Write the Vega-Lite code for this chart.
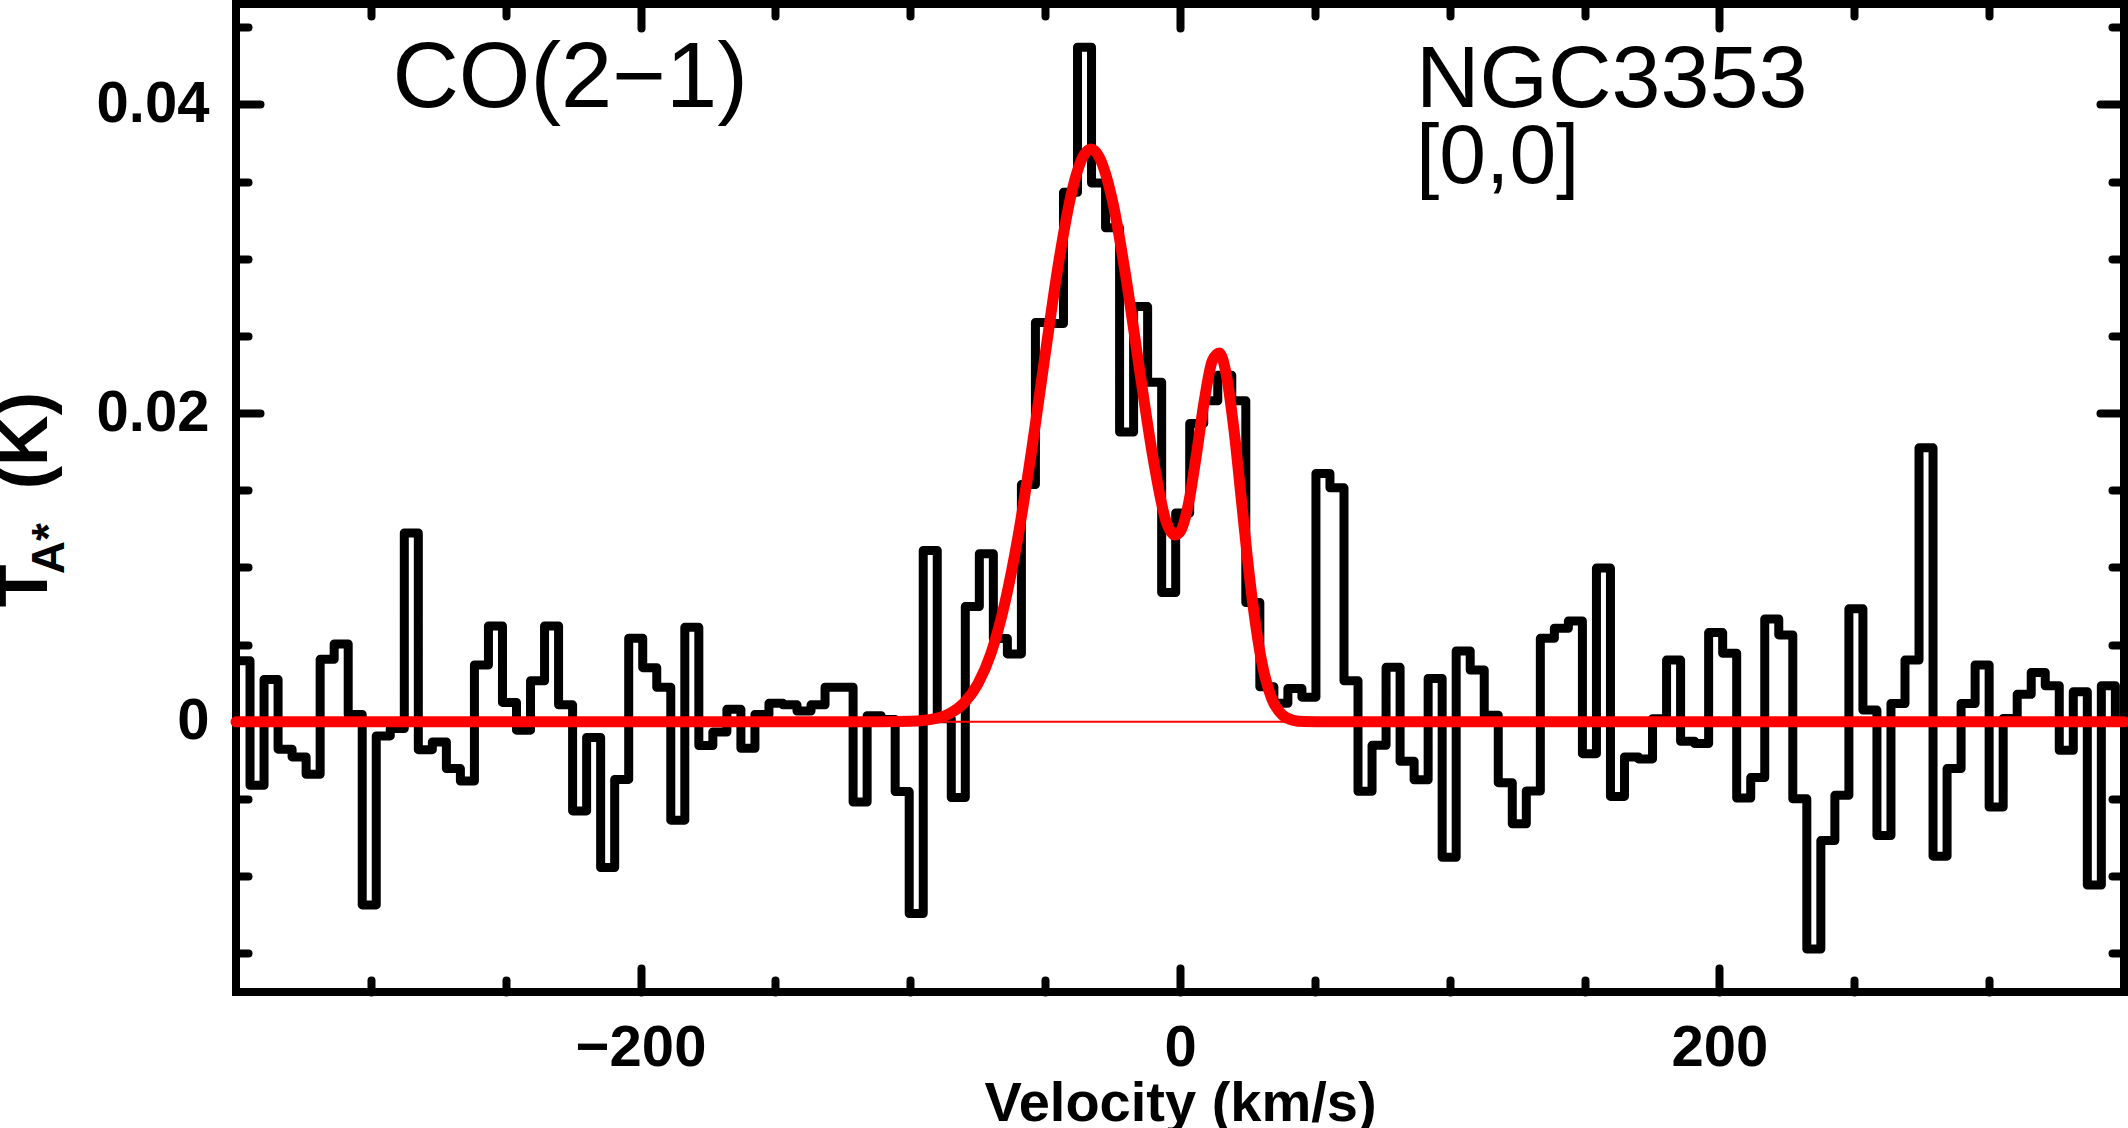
{
  "$schema": "https://vega.github.io/schema/vega-lite/v6.json",
  "width": 1888,
  "height": 988,
  "autosize": {"type": "none"},
  "padding": {"left": 236, "top": 4, "right": 4, "bottom": 136},
  "background": "white",
  "datasets": {
    "spectrum": [
      {"v": -350.0, "t": 0.00396}, {"v": -344.8, "t": -0.00411}, {"v": -339.6, "t": 0.00275}, {"v": -334.4, "t": -0.00177},
      {"v": -329.2, "t": -0.00227}, {"v": -324.0, "t": -0.0034}, {"v": -318.8, "t": 0.00405}, {"v": -313.6, "t": 0.00504},
      {"v": -308.4, "t": 0.00048}, {"v": -303.2, "t": -0.01186}, {"v": -298.0, "t": -0.00091}, {"v": -292.8, "t": -0.00043},
      {"v": -287.6, "t": 0.01224}, {"v": -282.4, "t": -0.0018}, {"v": -277.2, "t": -0.0013}, {"v": -272.0, "t": -0.00303},
      {"v": -266.8, "t": -0.00383}, {"v": -261.6, "t": 0.00368}, {"v": -256.4, "t": 0.00621}, {"v": -251.2, "t": 0.00126},
      {"v": -246.0, "t": -0.00054}, {"v": -240.8, "t": 0.00266}, {"v": -235.6, "t": 0.00621}, {"v": -230.4, "t": 0.0011},
      {"v": -225.2, "t": -0.00577}, {"v": -220.0, "t": -0.00101}, {"v": -214.8, "t": -0.00944}, {"v": -209.6, "t": -0.00373},
      {"v": -204.4, "t": 0.00542}, {"v": -199.2, "t": 0.00351}, {"v": -194.0, "t": 0.00224}, {"v": -188.8, "t": -0.00637},
      {"v": -183.6, "t": 0.00612}, {"v": -178.4, "t": -0.00154}, {"v": -173.2, "t": -0.00066}, {"v": -168.0, "t": 0.00081},
      {"v": -162.8, "t": -0.00171}, {"v": -157.6, "t": 0.00048}, {"v": -152.4, "t": 0.0012}, {"v": -147.2, "t": 0.0011},
      {"v": -142.0, "t": 0.0007}, {"v": -136.8, "t": 0.0011}, {"v": -131.6, "t": 0.00224}, {"v": -126.4, "t": 0.00224},
      {"v": -121.2, "t": -0.0052}, {"v": -116.0, "t": 0.0004}, {"v": -110.8, "t": 0.00015}, {"v": -105.6, "t": -0.00452},
      {"v": -100.4, "t": -0.01242}, {"v": -95.2, "t": 0.0111}, {"v": -90.0, "t": 0.0002}, {"v": -84.8, "t": -0.0049},
      {"v": -79.6, "t": 0.00747}, {"v": -74.4, "t": 0.01089}, {"v": -69.2, "t": 0.0054}, {"v": -64.0, "t": 0.0044},
      {"v": -58.8, "t": 0.01537}, {"v": -53.6, "t": 0.02587}, {"v": -48.4, "t": 0.0258}, {"v": -43.2, "t": 0.0343},
      {"v": -38.0, "t": 0.0437}, {"v": -32.8, "t": 0.0349}, {"v": -27.6, "t": 0.032}, {"v": -22.4, "t": 0.01877},
      {"v": -17.2, "t": 0.0269}, {"v": -12.0, "t": 0.022}, {"v": -6.8, "t": 0.00838}, {"v": -1.6, "t": 0.01353},
      {"v": 3.6, "t": 0.01933}, {"v": 8.8, "t": 0.0208}, {"v": 14.0, "t": 0.02245}, {"v": 19.2, "t": 0.0208},
      {"v": 24.4, "t": 0.00773}, {"v": 29.6, "t": 0.00227}, {"v": 34.8, "t": 0.0012}, {"v": 40.0, "t": 0.00216},
      {"v": 45.2, "t": 0.0016}, {"v": 50.4, "t": 0.01609}, {"v": 55.6, "t": 0.01516}, {"v": 60.8, "t": 0.00266},
      {"v": 66.0, "t": -0.0045}, {"v": 71.2, "t": -0.00152}, {"v": 76.4, "t": 0.00353}, {"v": 81.6, "t": -0.00255},
      {"v": 86.8, "t": -0.00375}, {"v": 92.0, "t": 0.00281}, {"v": 97.2, "t": -0.00877}, {"v": 102.4, "t": 0.00459},
      {"v": 107.6, "t": 0.00336}, {"v": 112.8, "t": 0.00043}, {"v": 118.0, "t": -0.00394}, {"v": 123.2, "t": -0.0066},
      {"v": 128.4, "t": -0.00448}, {"v": 133.6, "t": 0.00541}, {"v": 138.8, "t": 0.00606}, {"v": 144.0, "t": 0.00654},
      {"v": 149.2, "t": -0.00206}, {"v": 154.4, "t": 0.00996}, {"v": 159.6, "t": -0.00483}, {"v": 164.8, "t": -0.00227},
      {"v": 170.0, "t": -0.0024}, {"v": 175.2, "t": 0.0002}, {"v": 180.4, "t": 0.004}, {"v": 185.6, "t": -0.00126},
      {"v": 190.8, "t": -0.0014}, {"v": 196.0, "t": 0.00578}, {"v": 201.2, "t": 0.00444}, {"v": 206.4, "t": -0.00494},
      {"v": 211.6, "t": -0.00361}, {"v": 216.8, "t": 0.00667}, {"v": 222.0, "t": 0.00563}, {"v": 227.2, "t": -0.00498},
      {"v": 232.4, "t": -0.01472}, {"v": 237.6, "t": -0.00769}, {"v": 242.8, "t": -0.00476}, {"v": 248.0, "t": 0.00732},
      {"v": 253.2, "t": 0.00076}, {"v": 258.4, "t": -0.00736}, {"v": 263.6, "t": 0.00119}, {"v": 268.8, "t": 0.004},
      {"v": 274.0, "t": 0.01775}, {"v": 279.2, "t": -0.0087}, {"v": 284.4, "t": -0.00303}, {"v": 289.6, "t": 0.00119},
      {"v": 294.8, "t": 0.00368}, {"v": 300.0, "t": -0.00552}, {"v": 305.2, "t": 0.00022}, {"v": 310.4, "t": 0.00178},
      {"v": 315.6, "t": 0.0032}, {"v": 320.8, "t": 0.00234}, {"v": 326.0, "t": -0.00184}, {"v": 331.2, "t": 0.00195},
      {"v": 336.4, "t": -0.01057}, {"v": 341.6, "t": 0.00234}, {"v": 346.8, "t": 0.0002}
    ],
    "fit": [
      {"v": -350, "t": 0}, {"v": -120, "t": 0}, {"v": -100, "t": 0.00004}, {"v": -90, "t": 0.00024},
      {"v": -85, "t": 0.00057}, {"v": -80, "t": 0.00123}, {"v": -75, "t": 0.00244}, {"v": -70, "t": 0.00448},
      {"v": -65, "t": 0.00765}, {"v": -60, "t": 0.01205}, {"v": -55, "t": 0.0176}, {"v": -50, "t": 0.02378},
      {"v": -45, "t": 0.02975}, {"v": -40, "t": 0.03442}, {"v": -36, "t": 0.0366}, {"v": -33, "t": 0.0371},
      {"v": -30, "t": 0.0366}, {"v": -25, "t": 0.03372}, {"v": -20, "t": 0.02875}, {"v": -15, "t": 0.0228},
      {"v": -10, "t": 0.0171}, {"v": -5, "t": 0.0129}, {"v": -2, "t": 0.0121}, {"v": 0, "t": 0.0123},
      {"v": 3, "t": 0.0140}, {"v": 6, "t": 0.0172}, {"v": 9, "t": 0.0208}, {"v": 12, "t": 0.0234},
      {"v": 14.6, "t": 0.0239}, {"v": 17, "t": 0.02264}, {"v": 20, "t": 0.01893}, {"v": 23, "t": 0.01395},
      {"v": 26, "t": 0.00905}, {"v": 30, "t": 0.00416}, {"v": 34, "t": 0.00151}, {"v": 38, "t": 0.00044},
      {"v": 42, "t": 0.0001}, {"v": 46, "t": 0.00002}, {"v": 55, "t": 0}, {"v": 350, "t": 0}
    ]
  },
  "resolve": {"axis": {"x": "independent", "y": "independent"}},
  "layer": [
    {
      "data": {"name": "spectrum"},
      "mark": {"type": "line", "interpolate": "step-after", "color": "black", "strokeWidth": 9, "strokeJoin": "round"},
      "encoding": {
        "x": {
          "field": "v", "type": "quantitative",
          "scale": {"domain": [-350, 350], "nice": false, "zero": false},
          "axis": {
            "orient": "bottom", "values": [-200, 0, 200], "ticks": false, "domain": false, "grid": false,
            "labelFont": "Liberation Sans", "labelFontWeight": "bold", "labelFontSize": 58, "labelColor": "black",
            "labelPadding": 27, "labelFlush": false, "labelOverlap": false,
            "title": "Velocity (km/s)", "titleFont": "Liberation Sans", "titleFontWeight": "bold", "titleFontSize": 56,
            "titleColor": "black", "titleBaseline": "alphabetic", "titleY": 128
          }
        },
        "y": {
          "field": "t", "type": "quantitative",
          "scale": {"domain": [-0.0175, 0.0465], "nice": false, "zero": false},
          "axis": {
            "orient": "left", "values": [0, 0.02, 0.04], "format": ".2~f", "ticks": false, "domain": false, "grid": false,
            "labelFont": "Liberation Sans", "labelFontWeight": "bold", "labelFontSize": 58, "labelColor": "black",
            "labelPadding": 27, "labelFlush": false, "labelOverlap": false, "title": null
          }
        }
      }
    },
    {
      "data": {"values": [{}]},
      "mark": {"type": "rule", "color": "red", "strokeWidth": 2},
      "encoding": {
        "y": {"datum": 0, "type": "quantitative", "scale": {"domain": [-0.0175, 0.0465], "nice": false, "zero": false}, "axis": null}
      }
    },
    {
      "data": {"name": "fit"},
      "mark": {"type": "line", "interpolate": "monotone", "color": "red", "strokeWidth": 11, "strokeCap": "round", "strokeJoin": "round"},
      "encoding": {
        "x": {
          "field": "v", "type": "quantitative",
          "scale": {"domain": [-350, 350], "nice": false, "zero": false},
          "axis": {"orient": "bottom", "values": [-200, 0, 200], "labels": false, "domain": false, "grid": false,
                   "tickSize": -24, "tickWidth": 8, "tickColor": "black", "tickCap": "round", "title": null}
        },
        "y": {
          "field": "t", "type": "quantitative",
          "scale": {"domain": [-0.0175, 0.0465], "nice": false, "zero": false},
          "axis": {"orient": "left", "values": [0, 0.02, 0.04], "labels": false, "domain": false, "grid": false,
                   "tickSize": -24, "tickWidth": 8, "tickColor": "black", "tickCap": "round", "title": null}
        }
      }
    },
    {
      "data": {"values": [{}]},
      "mark": {"type": "text", "text": "CO(2−1)", "font": "Liberation Sans", "fontSize": 92, "align": "left", "baseline": "alphabetic", "color": "black"},
      "encoding": {
        "x": {
          "datum": -292, "type": "quantitative",
          "scale": {"domain": [-350, 350], "nice": false, "zero": false},
          "axis": {"orient": "bottom", "values": [-300, -250, -150, -100, -50, 50, 100, 150, 250, 300], "labels": false, "domain": false, "grid": false,
                   "tickSize": -12, "tickWidth": 8, "tickColor": "black", "tickCap": "round", "title": null}
        },
        "y": {
          "datum": 0.0398, "type": "quantitative",
          "scale": {"domain": [-0.0175, 0.0465], "nice": false, "zero": false},
          "axis": {"orient": "left", "values": [-0.015, -0.01, -0.005, 0.005, 0.01, 0.015, 0.025, 0.03, 0.035, 0.045], "labels": false, "domain": false, "grid": false,
                   "tickSize": -12, "tickWidth": 8, "tickColor": "black", "tickCap": "round", "title": null}
        }
      }
    },
    {
      "data": {"values": [{}]},
      "mark": {"type": "text", "text": "NGC3353", "font": "Liberation Sans", "fontSize": 88, "align": "left", "baseline": "alphabetic", "color": "black"},
      "encoding": {
        "x": {
          "datum": 87.5, "type": "quantitative",
          "scale": {"domain": [-350, 350], "nice": false, "zero": false},
          "axis": {"orient": "top", "values": [-200, 0, 200], "labels": false, "domain": false, "grid": false,
                   "tickSize": -24, "tickWidth": 8, "tickColor": "black", "tickCap": "round", "title": null}
        },
        "y": {
          "datum": 0.0398, "type": "quantitative",
          "scale": {"domain": [-0.0175, 0.0465], "nice": false, "zero": false},
          "axis": {"orient": "right", "values": [0, 0.02, 0.04], "labels": false, "domain": false, "grid": false,
                   "tickSize": -24, "tickWidth": 8, "tickColor": "black", "tickCap": "round", "title": null}
        }
      }
    },
    {
      "data": {"values": [{}]},
      "mark": {"type": "text", "text": "[0,0]", "font": "Liberation Sans", "fontSize": 84, "align": "left", "baseline": "alphabetic", "color": "black"},
      "encoding": {
        "x": {
          "datum": 87.5, "type": "quantitative",
          "scale": {"domain": [-350, 350], "nice": false, "zero": false},
          "axis": {"orient": "top", "values": [-300, -250, -150, -100, -50, 50, 100, 150, 250, 300], "labels": false, "domain": false, "grid": false,
                   "tickSize": -12, "tickWidth": 8, "tickColor": "black", "tickCap": "round", "title": null}
        },
        "y": {
          "datum": 0.0349, "type": "quantitative",
          "scale": {"domain": [-0.0175, 0.0465], "nice": false, "zero": false},
          "axis": {"orient": "right", "values": [-0.015, -0.01, -0.005, 0.005, 0.01, 0.015, 0.025, 0.03, 0.035, 0.045], "labels": false, "domain": false, "grid": false,
                   "tickSize": -12, "tickWidth": 8, "tickColor": "black", "tickCap": "round", "title": null}
        }
      }
    },
    {
      "data": {"values": [{}]},
      "mark": {"type": "text", "text": "T", "font": "Liberation Sans", "fontWeight": "bold", "fontSize": 70, "angle": 270, "align": "left", "baseline": "alphabetic", "color": "black"},
      "encoding": {
        "x": {"datum": -420, "type": "quantitative", "scale": {"domain": [-350, 350], "nice": false, "zero": false}, "axis": null},
        "y": {"datum": 0.00742, "type": "quantitative", "scale": {"domain": [-0.0175, 0.0465], "nice": false, "zero": false}, "axis": null}
      }
    },
    {
      "data": {"values": [{}]},
      "mark": {"type": "text", "text": "A*", "font": "Liberation Sans", "fontWeight": "bold", "fontSize": 46, "angle": 270, "align": "left", "baseline": "alphabetic", "color": "black"},
      "encoding": {
        "x": {"datum": -413.8, "type": "quantitative", "scale": {"domain": [-350, 350], "nice": false, "zero": false}, "axis": null},
        "y": {"datum": 0.00956, "type": "quantitative", "scale": {"domain": [-0.0175, 0.0465], "nice": false, "zero": false}, "axis": null}
      }
    },
    {
      "data": {"values": [{}]},
      "mark": {"type": "text", "text": "(K)", "font": "Liberation Sans", "fontWeight": "bold", "fontSize": 70, "angle": 270, "align": "left", "baseline": "alphabetic", "color": "black"},
      "encoding": {
        "x": {"datum": -420, "type": "quantitative", "scale": {"domain": [-350, 350], "nice": false, "zero": false}, "axis": null},
        "y": {"datum": 0.01507, "type": "quantitative", "scale": {"domain": [-0.0175, 0.0465], "nice": false, "zero": false}, "axis": null}
      }
    }
  ],
  "config": {
    "view": {"stroke": "black", "strokeWidth": 8},
    "font": "Liberation Sans"
  }
}
